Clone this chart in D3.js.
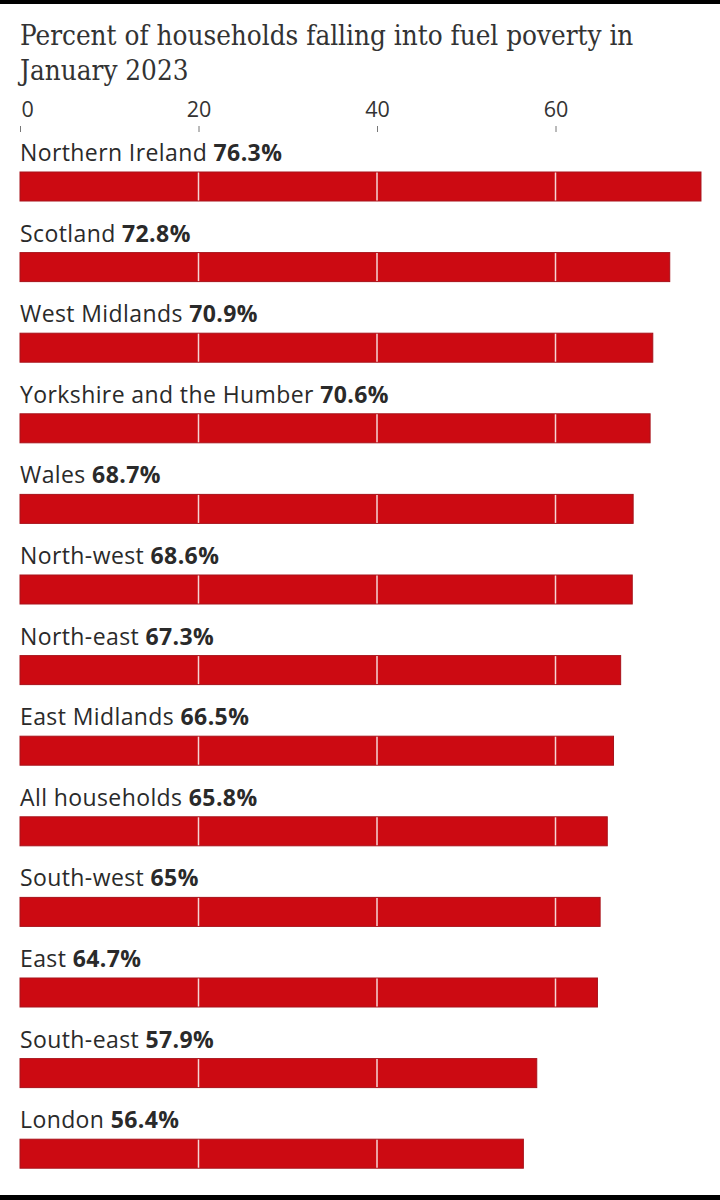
<!DOCTYPE html>
<html><head><meta charset="utf-8">
<script src="https://cdn.jsdelivr.net/npm/d3@7"></script>
<style>
html,body{margin:0;padding:0;background:#fff;}
</style></head>
<body>
<svg id="chart" width="720" height="1200"></svg>
<script>
const regions = ["Northern Ireland","Scotland","West Midlands","Yorkshire and the Humber","Wales","North-west","North-east","East Midlands","All households","South-west","East","South-east","London"];
const values = [76.3,72.8,70.9,70.6,68.7,68.6,67.3,66.5,65.8,65,64.7,57.9,56.4];
const valueLabels = ["76.3%","72.8%","70.9%","70.6%","68.7%","68.6%","67.3%","66.5%","65.8%","65%","64.7%","57.9%","56.4%"];
const tickValues = [0,20,40,60];
const titleLines = ["Percent of households falling into fuel poverty in","January 2023"];

const svg = d3.select("#chart");
svg.append("rect").attr("x",0).attr("y",0).attr("width",720).attr("height",4).attr("fill","#000");
svg.append("rect").attr("x",0).attr("y",1195).attr("width",720).attr("height",5).attr("fill","#000");

const x = d3.scaleLinear().domain([0,20]).range([20,198.5]);
const step = 80.6;
const y = d3.scaleBand().domain(regions).range([132,132+step*regions.length]).paddingInner(0).paddingOuter(0);

svg.selectAll("text.title").data(titleLines).join("text")
  .attr("class","title")
  .attr("x",20).attr("y",(d,i)=>45+i*35)
  .attr("font-family","'DejaVu Serif Condensed', 'Liberation Serif', serif")
  .attr("font-stretch","condensed")
  .attr("font-size",27.6).attr("fill","#333")
  .text(d=>d);

const axis = d3.axisTop(x).tickValues(tickValues).tickSize(6).tickPadding(9).tickFormat(d3.format("d"));
const ag = svg.append("g").attr("transform","translate(0,132)").call(axis);
ag.select(".domain").remove();
ag.selectAll(".tick line").attr("stroke","#777").attr("stroke-width",1);
ag.selectAll(".tick text").attr("font-family","'Open Sans', sans-serif").attr("font-size",21.5).attr("fill","#333")
  .attr("text-anchor",(d)=>d===0?"start":"middle").attr("dx",(d)=>d===0?1:0);

const barH = 29;
const g = svg.selectAll("g.row").data(regions).join("g").attr("class","row")
  .attr("transform",(d)=>`translate(0,${y(d)})`);

const lbl = g.append("text").attr("x",20).attr("y",29)
  .attr("font-family","'Open Sans', sans-serif").attr("font-size",23).attr("letter-spacing",0.4).attr("fill","#2a2a2a");
lbl.append("tspan").text(d=>d+" ");
lbl.append("tspan").attr("font-weight","bold").text((d,i)=>valueLabels[i]);

g.append("rect").attr("x",x(0)).attr("y",40)
  .attr("width",(d,i)=>x(values[i])-x(0)).attr("height",barH)
  .attr("fill","#cc0a12").attr("stroke","#a8121a").attr("stroke-width",1);

g.each(function(d,i){
  const sel = d3.select(this);
  tickValues.filter(t=>t>0 && t<values[i]).forEach(t=>{
    sel.append("line").attr("x1",x(t)).attr("x2",x(t)).attr("y1",40.5).attr("y2",40+barH-0.5)
      .attr("stroke","#f6d4d4").attr("stroke-width",1.5);
  });
});
</script>
</body></html>
